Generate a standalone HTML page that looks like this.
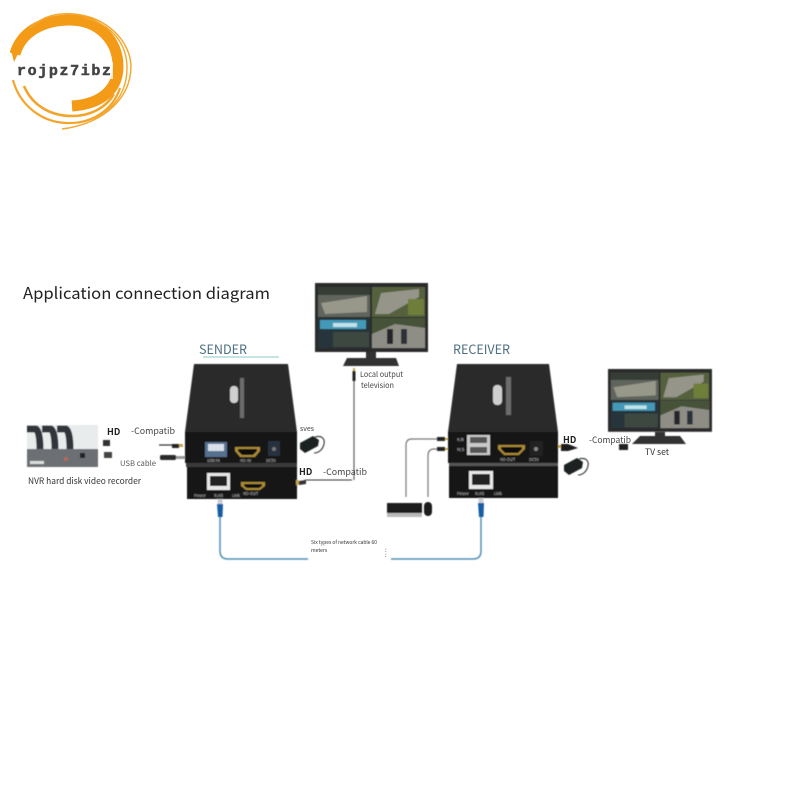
<!DOCTYPE html>
<html><head><meta charset="utf-8"><style>
html,body{margin:0;padding:0;background:#fff;width:800px;height:800px;overflow:hidden}
svg{display:block}
text{font-family:"Noto Sans CJK SC","Liberation Sans",sans-serif}
</style></head><body>
<svg xmlns="http://www.w3.org/2000/svg" width="800" height="800" viewBox="0 0 800 800">
<defs>
<filter id="b" x="-5%" y="-5%" width="110%" height="110%"><feGaussianBlur stdDeviation="0.5"/></filter>
<filter id="b2" x="-5%" y="-5%" width="110%" height="110%"><feGaussianBlur stdDeviation="0.35"/></filter>
<g id="screen">
<rect x="0" y="0" width="113" height="69" fill="#2b2c2c"/>
<rect x="3" y="4" width="52" height="30" fill="#5f655c"/>
<rect x="3" y="4" width="52" height="8" fill="#343e36"/>
<path d="M6 20L52 13V29L10 31Z" fill="#97978a"/>
<rect x="3" y="35" width="52" height="30" fill="#26343a"/>
<rect x="5" y="37" width="46" height="9" fill="#4499b8"/>
<rect x="18" y="40" width="24" height="4" fill="#c2e2ea"/>
<rect x="18" y="49" width="36" height="15" fill="#3d4a41"/>
<rect x="57" y="4" width="53" height="30" fill="#54603d"/>
<path d="M66 10L104 6V14L74 31H60Z" fill="#95958a"/>
<rect x="93" y="16" width="16" height="16" fill="#707e3a"/>
<rect x="57" y="35" width="53" height="30" fill="#8f8e86"/>
<path d="M57 35H110V45L80 41L57 51Z" fill="#465238"/>
<rect x="72" y="46" width="6" height="15" fill="#26262c"/>
<rect x="86" y="46" width="6" height="15" fill="#2a3038"/>
</g>
<g id="psu">
<path d="M0 7L13 0L19 4L18 10L5 17L0 13Z" fill="#1f2020"/>
<path d="M15 1C22 -1 25 3 24 8C23 13 19 17 14 17" fill="none" stroke="#333" stroke-width="1.1"/>
</g>
</defs>

<!-- logo -->
<g filter="url(#b2)">
<path d="M15 54C21 32 43 20 70 20C99 20 118 41 118 66C118 88 103 104 72 106" fill="none" stroke="#f39a17" stroke-width="11"/>
<path d="M11 50L14 62L20 50Z" fill="#f39a17"/>
<path d="M30 28C44 15 58 13 74 14C106 17 130 40 131 66C131 96 107 123 62 129" fill="none" stroke="#f4a833" stroke-width="1.5"/>
<path d="M84 18C112 24 127 44 127 68C127 95 110 117 78 123" fill="none" stroke="#f4a833" stroke-width="1.4"/>
<path d="M13 80C20 106 42 122 66 123C92 124 113 110 120 88" fill="none" stroke="#f2a52a" stroke-width="2.2"/>
<path d="M24 86C32 105 50 116 72 116C90 116 106 108 114 94" fill="none" stroke="#f2a52a" stroke-width="2.6"/>
</g>
<rect x="15" y="62" width="98" height="17" fill="#fff" opacity=".75"/>
<g style="font-family:'Liberation Mono',monospace" fill="#444" stroke="#444" stroke-width=".5">
<text x="17" y="75" style="font-family:'Liberation Mono',monospace" font-size="15" font-weight="700" textLength="94" lengthAdjust="spacing">rojpz7ibz</text>
</g>

<!-- title -->
<text x="23" y="299" font-size="16" fill="#222" textLength="247" lengthAdjust="spacingAndGlyphs">Application connection diagram</text>
<text x="199" y="354" font-size="13" fill="#4d6f80" textLength="48" lengthAdjust="spacingAndGlyphs">SENDER</text>
<line x1="203" y1="357" x2="279" y2="357" stroke="#8cc9c4" stroke-width="1"/>
<text x="453" y="354" font-size="13" fill="#4d6f80" textLength="57" lengthAdjust="spacingAndGlyphs">RECEIVER</text>

<g filter="url(#b)">
<!-- sender box -->
<path d="M194 364H288L297 432H185Z" fill="#2a2a2a"/>
<rect x="185" y="432" width="112" height="31" fill="#131313"/>
<rect x="186" y="463" width="111" height="4" fill="#3a3a3a"/>
<rect x="187" y="467" width="110" height="32" fill="#171717"/>
<rect x="240" y="378" width="4" height="40" fill="#999" opacity=".6"/>
<rect x="230" y="386" width="8" height="17" rx="3.500" fill="#cfcfcf"/>
<!-- sender ports -->
<rect x="205" y="442" width="22" height="15" fill="#56708f"/>
<rect x="208" y="444" width="16" height="7" fill="#d9dfe8"/>
<path d="M235 447H260V451L255 457H240L235 451Z" fill="#a98a35"/><path d="M238 449H257V451L253 455H242L238 451Z" fill="#111"/>
<rect x="268" y="441" width="12" height="15" fill="#26303c"/><circle cx="274" cy="449" r="2" fill="#777"/>
<rect x="207" y="473" width="23" height="17" fill="#e8e8e8"/><rect x="210" y="476" width="17" height="10" fill="#222"/>
<path d="M241 482H265V486L260 490H246L241 486Z" fill="#a98a35"/><path d="M244 484H262V486L259 488H247L244 486Z" fill="#111"/>
<g fill="#bbb"><text x="194" y="497" font-size="4">Power</text><text x="214" y="497" font-size="4">RJ45</text><text x="232" y="497" font-size="4">Link</text><text x="243" y="495" font-size="4">HD-OUT</text><text x="207" y="462" font-size="4">USB IN</text><text x="240" y="462" font-size="4">HD-IN</text><text x="266" y="462" font-size="4">DC5V</text></g>

<!-- receiver box -->
<path d="M457 364H549L558 432H448Z" fill="#2a2a2a"/>
<rect x="448" y="432" width="110" height="31" fill="#131313"/>
<rect x="449" y="463" width="109" height="3" fill="#555"/>
<rect x="449" y="466" width="109" height="32" fill="#171717"/>
<rect x="506" y="377" width="5" height="38" fill="#999" opacity=".6"/>
<rect x="493" y="385" width="9" height="20" rx="4" fill="#cfcfcf"/>
<rect x="467" y="435" width="23" height="20" fill="#c9c9c9"/>
<rect x="470" y="437" width="17" height="6" fill="#555"/><rect x="470" y="447" width="17" height="6" fill="#555"/>
<path d="M498 445H525V449L519 455H504L498 449Z" fill="#a98a35"/><path d="M501 447H522V449L518 453H505L501 449Z" fill="#111"/>
<rect x="530" y="441" width="13" height="15" fill="#222"/><circle cx="536" cy="449" r="2" fill="#888"/>
<rect x="469" y="471" width="24" height="18" fill="#e8e8e8"/><rect x="472" y="474" width="18" height="11" fill="#222"/>
<g fill="#bbb"><text x="457" y="441" font-size="4">K/B</text><text x="457" y="451" font-size="4">M/S</text><text x="457" y="495" font-size="4">Power</text><text x="475" y="495" font-size="4">RJ45</text><text x="494" y="495" font-size="4">Link</text><text x="500" y="461" font-size="4">HD-OUT</text><text x="529" y="461" font-size="4">DC5V</text></g>

<!-- monitors -->
<g transform="translate(315,283)"><use href="#screen"/></g>
<path d="M366 352H376V358H366Z" fill="#333"/><path d="M347 358H396L399 366H343Z" fill="#333"/>
<g transform="translate(608,369) scale(.92,.91)"><use href="#screen"/></g>
<path d="M655 432H665V436H655Z" fill="#333"/><path d="M640 436H680L686 444H632Z" fill="#333"/>

<!-- NVR -->
<rect x="27" y="425" width="71" height="25" fill="#e9ecec"/>
<rect x="27" y="449" width="71" height="18" fill="#6c7074"/>
<rect x="30" y="461" width="14" height="3" fill="#ddd"/>
<rect x="80" y="453" width="5" height="5" fill="#222"/>
<circle cx="66" cy="459" r="2" fill="#b86b52"/>
<g fill="none" stroke="#30363a" stroke-width="7" stroke-linejoin="round">
<path d="M27 429H36Q40 432 40 449"/>
<path d="M42 429H51Q55 432 55 449"/>
<path d="M57 429H66Q70 432 70 449"/>
</g>

<!-- left connectors -->
<rect x="103" y="440" width="7" height="6" fill="#333"/>
<rect x="104" y="452" width="8" height="6" fill="#444"/>
<path d="M159 445H172" stroke="#222" stroke-width="1.1" fill="none"/>
<rect x="172" y="444" width="7" height="4" fill="#222"/><rect x="179" y="444" width="4" height="3" fill="#c3a452"/>
<rect x="160" y="455" width="16" height="5" rx="1.500" fill="#2a2a2a"/>
<rect x="176" y="456" width="9" height="3" fill="#999"/>
<!-- HD out cable -->
<rect x="296" y="480" width="3" height="5" fill="#c3a452"/>
<path d="M299 483L306 480H352" stroke="#333" stroke-width="1.1" fill="none"/>
<path d="M299 481L306 480V484L299 485Z" fill="#333"/>
<!-- cable to local monitor -->
<path d="M354 480V381" stroke="#555" stroke-width="1.1" fill="none"/>
<rect x="352.500" y="371" width="3" height="10" fill="#222"/>
<rect x="353" y="368" width="2" height="3" fill="#c3a452"/>
<!-- psu -->
<g transform="translate(300,436)"><use href="#psu"/></g>
<g transform="translate(564,458)"><use href="#psu"/></g>

<!-- receiver left cables -->
<path d="M406 497V445Q406 439 412 439H437" stroke="#777" stroke-width="1.2" fill="none"/>
<path d="M428 497V456Q428 449 434 449H437" stroke="#777" stroke-width="1.2" fill="none"/>
<rect x="437" y="437" width="8" height="4" fill="#222"/><rect x="445" y="438" width="3" height="2" fill="#c3a452"/>
<rect x="437" y="447" width="8" height="4" fill="#222"/><rect x="445" y="448" width="3" height="2" fill="#c3a452"/>
<rect x="387" y="503" width="35" height="10" fill="#1b1b1b"/><rect x="387" y="513" width="35" height="4" fill="#b9b9b9"/>
<rect x="424" y="502" width="8" height="14" rx="4" fill="#1b1b1b"/>
<!-- receiver right plug -->
<rect x="558" y="445" width="3" height="3" fill="#c3a452"/>
<path d="M561 444H568L578 448L568 451H561Z" fill="#1b1b1b"/>
<rect x="619" y="444" width="9" height="6" fill="#222"/>

<!-- network cables -->
<path d="M220 515V551Q220 559 228 559H308" stroke="#4f90b6" stroke-width="1.500" fill="none"/>
<path d="M481 515V551Q481 559 473 559H391" stroke="#4f90b6" stroke-width="1.500" fill="none"/>
<rect x="217.500" y="499" width="5" height="5" fill="#c9ced2"/>
<path d="M217 504H223L222.500 517H218Z" fill="#165da3"/>
<rect x="478.500" y="498" width="5" height="5" fill="#c9ced2"/>
<path d="M478 503H484L483.500 517H479Z" fill="#165da3"/>
</g>

<!-- labels -->
<g fill="#222">
<text x="107" y="435" font-size="9" font-weight="700">HD</text>
<text x="131" y="434" font-size="8.500" fill="#444" textLength="44" lengthAdjust="spacingAndGlyphs">-Compatib</text>
<text x="120" y="466" font-size="7.500" fill="#555" textLength="36" lengthAdjust="spacingAndGlyphs">USB cable</text>
<text x="28" y="484" font-size="8.500" fill="#333" textLength="113" lengthAdjust="spacingAndGlyphs">NVR hard disk video recorder</text>
<text x="300" y="431" font-size="7" fill="#444">sves</text>
<text x="299" y="475" font-size="9" font-weight="700">HD</text>
<text x="323" y="475" font-size="8.500" fill="#444" textLength="44" lengthAdjust="spacingAndGlyphs">-Compatib</text>
<text x="360" y="377" font-size="7.500" fill="#444" textLength="43" lengthAdjust="spacingAndGlyphs">Local output</text>
<text x="361" y="388" font-size="7.500" fill="#444" textLength="33" lengthAdjust="spacingAndGlyphs">television</text>
<text x="563" y="443" font-size="9" font-weight="700">HD</text>
<text x="589" y="443" font-size="8.500" fill="#444" textLength="42" lengthAdjust="spacingAndGlyphs">-Compatib</text>
<text x="645" y="455" font-size="8.500" fill="#333" textLength="24" lengthAdjust="spacingAndGlyphs">TV set</text>
<text x="311" y="544" font-size="5" fill="#333" textLength="66" lengthAdjust="spacingAndGlyphs">Six types of network cable 60</text>
<text x="311" y="552" font-size="5" fill="#333">meters</text>
<text x="385" y="552" font-size="6" fill="#333">:</text>
<text x="385" y="557" font-size="6" fill="#333">:</text>
</g>
</svg>
</body></html>
